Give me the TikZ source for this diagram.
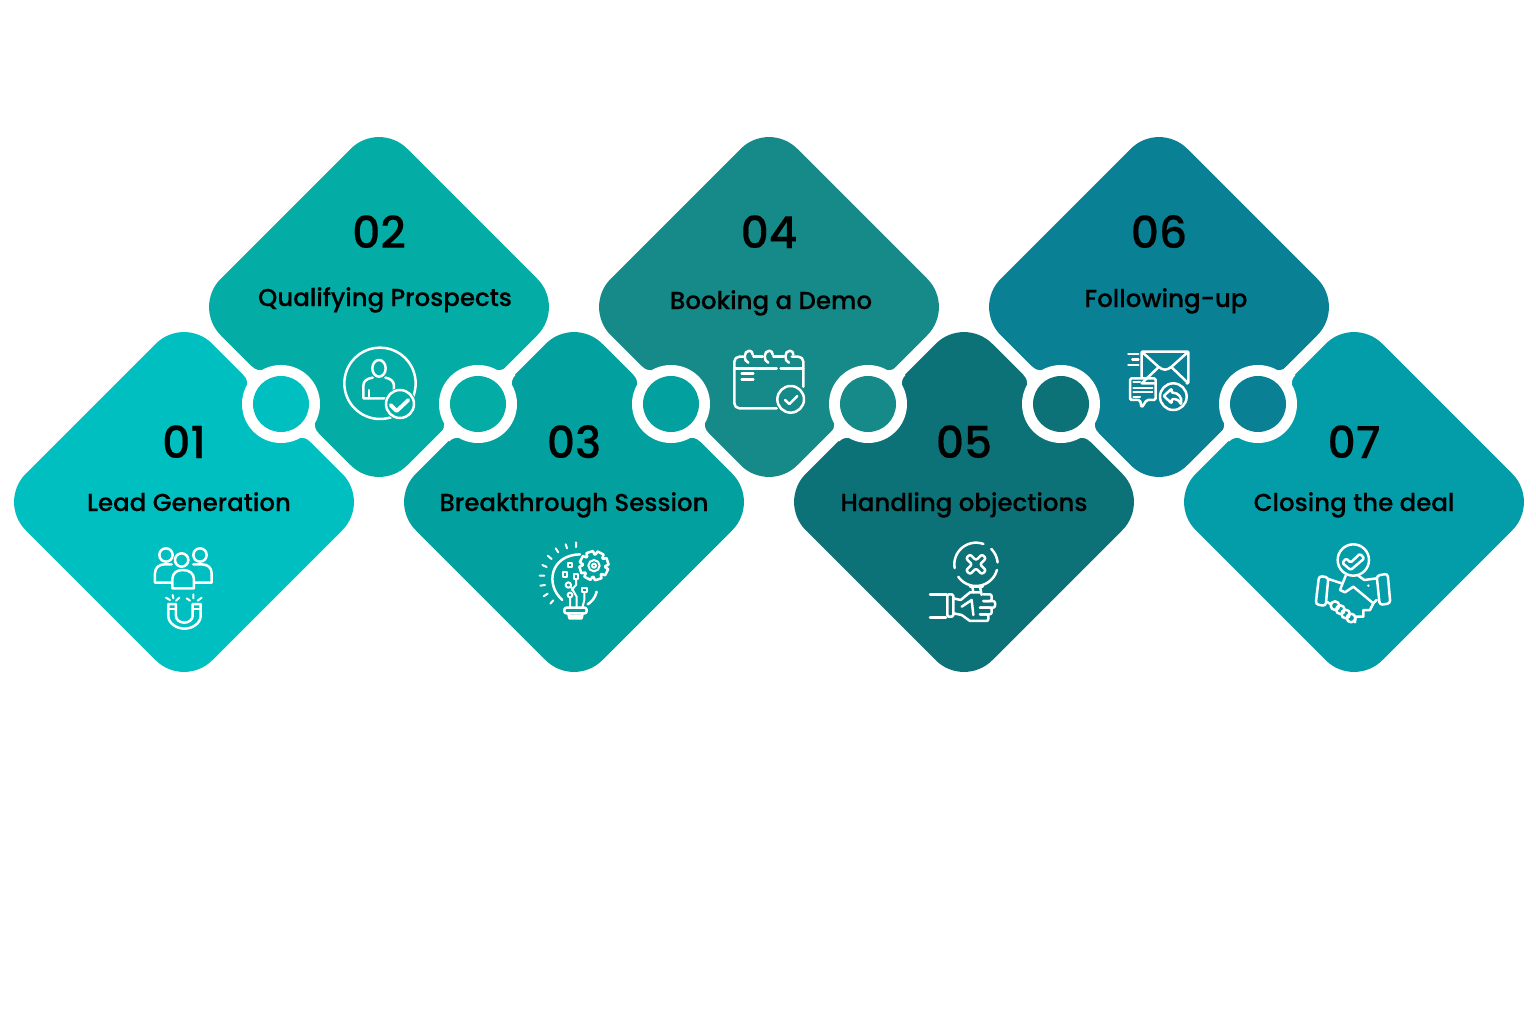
\documentclass[tikz,border=0pt]{standalone}
\usepackage{fontspec}
\setmainfont{Poppins}[UprightFont=* Medium,UprightFeatures={FakeBold=0.25}]
\definecolor{cA}{HTML}{00BFC0}
\definecolor{cB}{HTML}{03ADA5}
\definecolor{cC}{HTML}{02A09E}
\definecolor{cD}{HTML}{168A88}
\definecolor{cE}{HTML}{0D7277}
\definecolor{cF}{HTML}{0A8095}
\definecolor{cG}{HTML}{029DA9}
\tikzset{
 dia/.style={rounded corners=40pt},
 numtext/.style={font=\fontsize{44}{44}\selectfont,text=black,inner sep=0pt,anchor=base},
 labtext/.style={font=\fontsize{24.5}{25}\selectfont,text=black,inner sep=0pt,anchor=base},
 ic/.style={draw=white,line width=2.5pt,line cap=round,line join=round},
 icn/.style={draw=white,line width=2pt,line cap=round,line join=round},
 ick/.style={draw=white,line width=3.8pt,line cap=round,line join=round},
}
\newcommand{\diam}[3]{\fill[#3,dia] (#1-186.5,#2) -- (#1,#2-186.5) -- (#1+186.5,#2) -- (#1,#2+186.5) -- cycle;}
\newcommand{\fillet}[3]{\begin{scope}[shift={(#1,#2)},rotate=#3]\fill[white] (35,-13) .. controls (39,-8) and (42,-6) .. (47,-6) -- (47,6) .. controls (42,6) and (39,8) .. (35,13) -- cycle;\end{scope}}
\newcommand{\ring}[4]{\fill[white] (#1,#2) circle[radius=39]; \fillet{#1}{#2}{#4}\fillet{#1}{#2}{#4+180}\fill[#3] (#1,#2) circle[radius=28];}
\begin{document}
\begin{tikzpicture}[x=1pt,y=-1pt]
\useasboundingbox (0,0) rectangle (1536,1017);
\fill[white] (0,0) rectangle (1536,1017);
\diam{184}{502}{cA}\diam{379}{307}{cB}\diam{574}{502}{cC}\diam{769}{307}{cD}\diam{964}{502}{cE}\diam{1159}{307}{cF}\diam{1354}{502}{cG}
\ring{281}{404}{cA}{135}\ring{478}{404}{cB}{45}\ring{671}{404}{cC}{135}\ring{868}{404}{cD}{45}\ring{1061}{404}{cE}{135}\ring{1258}{404}{cF}{45}
\node[numtext] (n1) at (184,458) {01};
\node[numtext] (n2) at (379,248) {02};
\node[numtext] (n3) at (574,458) {03};
\node[numtext] (n4) at (769,248) {04};
\node[numtext] (n5) at (964,458) {05};
\node[numtext] (n6) at (1159,248) {06};
\node[numtext] (n7) at (1354,458) {07};
\node[labtext] (l1) at (189,511) {Lead Generation};
\node[labtext] (l2) at (385,306) {Qualifying Prospects};
\node[labtext] (l3) at (574,511) {Breakthrough Session};
\node[labtext] (l4) at (771,309) {Booking a Demo};
\node[labtext] (l5) at (964,511) {Handling objections};
\node[labtext] (l6) at (1166,307) {Following-up};
\node[labtext] (l7) at (1354,511) {Closing the deal};
% icon 1
\begin{scope}[shift={(130,530)},x=.3333pt,y=-.3333pt]
\draw[ic] (108,75) circle[radius=20] (210,75) circle[radius=20] (155,90) circle[radius=20];
\draw[ic] (125,158) -- (75,158) -- (75,130) .. controls (75,112) and (88,103) .. (105,103) -- (125,103);
\draw[ic] (195,158) -- (245,158) -- (245,130) .. controls (245,112) and (232,103) .. (215,103) -- (190,103);
\draw[ic] (127,175) -- (127,148) .. controls (127,130) and (140,120) .. (158,120) .. controls (178,120) and (192,130) .. (192,148) -- (192,175) -- cycle;
\draw[ic] (115,222) -- (115,258) .. controls (115,280) and (140,296) .. (163,296) .. controls (187,296) and (212,280) .. (212,258) -- (212,222) -- (188,222) -- (188,258) .. controls (188,270) and (175,278) .. (163,278) .. controls (150,278) and (138,270) .. (138,258) -- (138,222) -- cycle;
\draw[icn] (115,238) -- (138,238) (188,238) -- (212,238);
\draw[icn] (108,203) -- (120,210) (128,195) -- (130,205) (148,203) -- (138,212) (170,205) -- (180,212) (190,193) -- (190,205) (215,203) -- (203,212);
\end{scope}
% icon 2
\begin{scope}[shift={(330,335)},x=.3333pt,y=-.3333pt]
\draw[ic] (150,145) circle[radius=107];
\draw[ic] (147,100) ellipse[x radius=20,y radius=25];
\draw[ic] (170,190) -- (100,190) -- (100,152) .. controls (100,138) and (112,130) .. (128,128) (166,128) .. controls (180,130) and (192,138) .. (192,152) -- (192,170);
\draw[icn] (118,165) -- (118,190);
\fill[cB] (210,207) circle[radius=48];
\draw[ic] (210,207) circle[radius=42];
\draw[ick] (182,210) -- (200,228) -- (235,195);
\end{scope}
% icon 3
\begin{scope}[shift={(525,535)},x=.3333pt,y=-.3333pt]
\draw[ic] (112,195) .. controls (60,150) and (75,60) .. (165,58);
\draw[ic] (215,170) .. controls (210,190) and (200,200) .. (188,208);
\draw[ic,rounded corners=2pt] (118,218) rectangle (185,235);
\draw[ic] (130,235) -- (133,250) -- (170,250) -- (173,235) (135,243) -- (168,243);
\begin{scope}[shift={(207,92)}]
\fill[cC] (0,0) circle[radius=34];
\draw[ic] (8:34) \foreach \a in {8,53,98,143,188,233,278,323}{ -- (\a:34) -- (\a+6:44) -- (\a+33:44) -- (\a+39:34) } -- cycle;
\draw[icn] (0,0) circle[radius=17] (0,0) circle[radius=6];
\end{scope}
\draw[icn] (128,83) rectangle (142,97) (113,111) rectangle (127,125) (146,118) rectangle (160,132) (171,158) rectangle (185,172);
\draw[icn] (130,150) circle[radius=8] (135,180) circle[radius=7];
\draw[icn] (153,132) -- (153,150) -- (140,165) (138,156) -- (155,185) -- (155,218) (135,187) -- (135,218) (178,172) -- (178,195) -- (172,218);
\draw[icn] (153,22) -- (153,36) (122,28) -- (126,40) (92,40) -- (100,52) (68,62) -- (80,72) (52,90) -- (65,96) (44,122) -- (58,122) (46,152) -- (60,150) (56,184) -- (68,176) (76,206) -- (85,196);
\end{scope}
% icon 4
\begin{scope}[shift={(720,340)},x=.3333pt,y=-.3333pt]
\draw[ic,rounded corners=5pt] (170,205) -- (43,205) -- (43,50) -- (70,50);
\draw[ic,rounded corners=5pt] (215,50) -- (250,50) -- (250,140);
\draw[ic] (100,50) -- (128,50) (160,50) -- (190,50);
\draw[ic] (43,85) -- (170,85) (182,85) -- (250,85);
\draw[ic] (85,68) .. controls (70,65) and (70,32) .. (88,32) .. controls (95,32) and (98,38) .. (98,44);
\draw[ic] (145,68) .. controls (130,65) and (130,32) .. (148,32) .. controls (155,32) and (158,38) .. (158,44);
\draw[ic] (207,68) .. controls (192,65) and (192,32) .. (210,32) .. controls (217,32) and (220,38) .. (220,44);
\draw[ic] (65,100) -- (100,100) (65,118) -- (100,118);
\draw[ic] (212,178) circle[radius=40];
\draw[ic] (195,180) -- (208,192) -- (232,168);
\end{scope}
% icon 5
\begin{scope}[shift={(920,535)},x=.3333pt,y=-.3333pt]
\begin{scope}[shift={(168,88)}]
\draw[ic] plot[domain=70:190,samples=20] ({65*cos(\x)},{-65*sin(\x)});
\draw[ic] plot[domain=215:345,samples=20] ({65*cos(\x)},{-65*sin(\x)});
\draw[ic] plot[domain=5:45,samples=8] ({65*cos(\x)},{-65*sin(\x)});
\draw[ic,rounded corners=2pt] (-30,-18) -- (-18,-30) -- (0,-12) -- (18,-30) -- (30,-18) -- (12,0) -- (30,18) -- (18,30) -- (0,12) -- (-18,30) -- (-30,18) -- (-12,0) -- cycle;
\end{scope}
\draw[ic] (150,155) -- (188,155) (157,155) -- (160,172) (180,155) -- (185,180);
\draw[ic] (30,178) -- (80,178) (30,248) -- (78,248);
\draw[ic,rounded corners=1.5pt] (82,178) -- (100,178) -- (100,245) -- (82,245) -- cycle;
\draw[ic] (100,190) -- (122,195) -- (150,172) -- (180,172);
\draw[ic] (100,235) -- (125,240) -- (150,258) -- (170,258);
\draw[ic] (125,215) -- (155,195) -- (160,240);
\draw[ic,rounded corners=2pt] (190,178) -- (215,178) -- (215,198) -- (190,198);
\draw[ic,rounded corners=2pt] (190,198) -- (225,198) -- (225,218) -- (180,218);
\draw[ic,rounded corners=2pt] (180,218) -- (215,218) -- (215,238) -- (180,238);
\draw[ic,rounded corners=2pt] (180,238) -- (205,238) -- (205,258) -- (170,258);
\end{scope}
% icon 6
\begin{scope}[shift={(1115,340)},x=.3333pt,y=-.3333pt]
\draw[ic,rounded corners=1pt] (122,130) -- (80,130) (80,112) -- (80,35) -- (220,35) -- (220,130) -- (215,130);
\draw[ic] (80,35) -- (130,80) .. controls (145,92) and (155,92) .. (170,80) -- (220,35) (82,128) -- (130,82) (218,128) -- (170,82);
\draw[ic] (40,42) -- (70,42) (52,58) -- (70,58) (40,75) -- (70,75);
\draw[ic,rounded corners=1.5pt] (75,180) -- (45,180) -- (45,115) -- (122,115) -- (122,180) -- (95,180) -- (80,203) -- cycle;
\draw[icn] (55,125) -- (75,125) (55,143) -- (112,143) (55,157) -- (112,157) (55,170) -- (75,170);
\fill[cF] (175,170) circle[radius=44];
\draw[ic] (175,170) circle[radius=40];
\draw[ic,rounded corners=1pt] (170,146) -- (146,168) -- (170,190) -- (170,178) .. controls (185,176) and (193,182) .. (198,194) .. controls (202,172) and (190,158) .. (170,158) -- cycle;
\end{scope}
% icon 7
\begin{scope}[shift={(1305,535)},x=.3333pt,y=-.3333pt]
\draw[ic] (145,75) circle[radius=47];
\draw[ic,rounded corners=1.5pt] (112,84) -- (123,70) -- (137,83) -- (165,56) -- (178,70) -- (137,105) -- cycle;
\draw[ic,rounded corners=3pt] (42,123) -- (70,127) -- (62,213) -- (32,208) -- cycle;
\draw[ic,rounded corners=3pt] (215,122) -- (248,116) -- (256,205) -- (224,210) -- cycle;
\draw[ic] (70,132) -- (110,145) (215,130) -- (178,135) -- (160,122);
\draw[ic] (122,122) -- (105,165) -- (120,172) -- (145,155) -- (205,205) -- (195,225) -- (175,225) -- (175,245) -- (152,245) -- (150,262);
\draw[ic] (65,200) -- (78,208) (215,195) -- (205,205);
\draw[ic] (90,212) circle[radius=13] (106,224) circle[radius=13] (122,237) circle[radius=13] (138,249) circle[radius=13];
\fill[white] (35,176) circle[radius=4];
\fill[white] (190,152) circle[radius=4];
\end{scope}
\end{tikzpicture}
\end{document}
